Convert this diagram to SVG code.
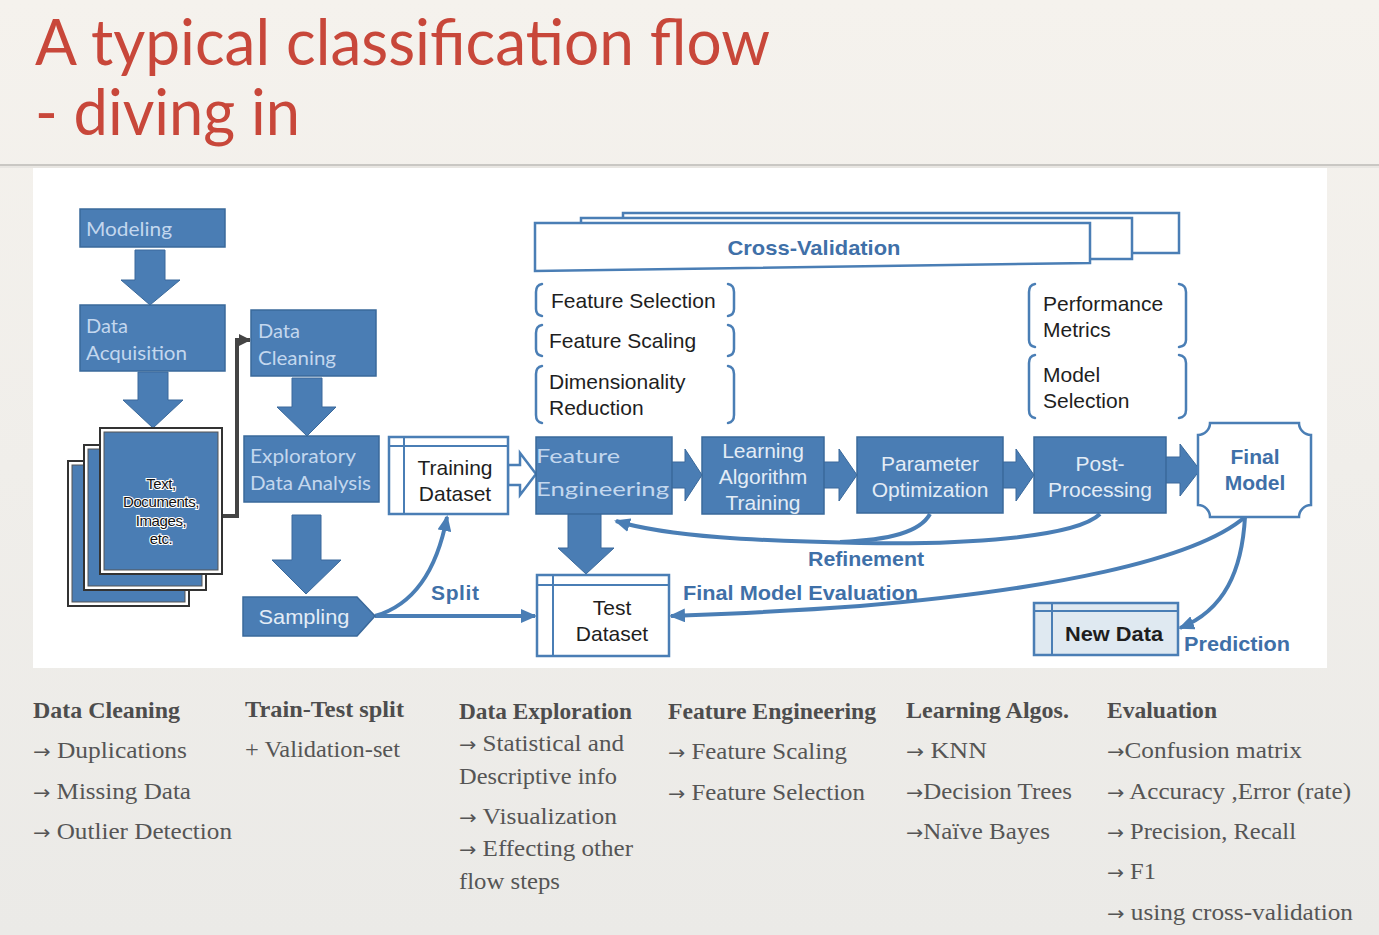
<svg xmlns="http://www.w3.org/2000/svg" width="1379" height="935" viewBox="0 0 1379 935">
  <defs>
    <linearGradient id="paper" x1="0" y1="0" x2="0" y2="1">
      <stop offset="0" stop-color="#f5f2ed"/>
      <stop offset="1" stop-color="#ebeae7"/>
    </linearGradient>
    <marker id="ah" markerUnits="userSpaceOnUse" markerWidth="16" markerHeight="14" viewBox="0 0 16 14" refX="14" refY="7" orient="auto">
      <path d="M0 0 L16 7 L0 14 Z" fill="#4a7eb5"/>
    </marker>
    <marker id="ahg" markerUnits="userSpaceOnUse" markerWidth="12" markerHeight="12" viewBox="0 0 12 12" refX="11" refY="6" orient="auto">
      <path d="M0 0 L12 6 L0 12 Z" fill="#444"/>
    </marker>
    <style>
      .box { fill: #4a7db4; stroke: #3a699b; stroke-width: 1.5; }
      .blk { fill: #4a7db4; stroke: #3a699b; stroke-width: 1; }
      .cal { font-family: Lato, "Open Sans", sans-serif; fill: #c3d7ee; font-size: 20px; }
      .ar { font-family: "Liberation Sans", Arial, sans-serif; font-size: 21px; }
      .lt { fill: #e3ecf6; }
      .dk { fill: #1e1e1e; }
      .lbl { font-weight: bold; fill: #3f70a8; }
      .frame { fill: #fff; stroke: #4a7eb5; stroke-width: 2.5; }
      .brace { fill: none; stroke: #4a7eb5; stroke-width: 2.5; stroke-linecap: round; }
      .link { fill: none; stroke: #4a7eb5; stroke-width: 4; }
      .tbl { fill: #fff; stroke: #4a7eb5; stroke-width: 2.5; }
      .doc-o { fill: #fff; stroke: #333; stroke-width: 2; }
      .doc-i { fill: #4a7db4; stroke: #555; stroke-width: 1; }
      .serif { font-family: "Liberation Serif", "Times New Roman", serif; fill: #555; font-size: 23px; }
      .hd { font-weight: bold; fill: #4d4d4d; }
      .arw { font-family: "DejaVu Sans", sans-serif; font-size: 19px; }
      .title { font-family: Lato, "Open Sans", sans-serif; fill: #c8473a; font-size: 64px; }
    </style>
  </defs>

  <!-- page -->
  <rect x="0" y="0" width="1379" height="935" fill="url(#paper)"/>
  <line x1="0" y1="165" x2="1379" y2="165" stroke="#c9c7c3" stroke-width="2"/>
  <line x1="0" y1="167" x2="1379" y2="167" stroke="#dedcd8" stroke-width="1"/>
  <rect x="33" y="168" width="1294" height="500" fill="#fff"/>

  <!-- title -->
  <g id="title">
    <text class="title" x="35" y="65" textLength="735" lengthAdjust="spacingAndGlyphs">A typical classification flow</text>
    <text class="title" x="35" y="135" textLength="265" lengthAdjust="spacingAndGlyphs">- diving in</text>
  </g>

  <!-- connectors -->
  <g id="connectors">
    <!-- modeling column block arrows -->
    <polygon class="blk" points="135,250 165,250 165,280 180,280 150,305 121,280 135,280"/>
    <polygon class="blk" points="138,372 168,372 168,400 183,400 153,428 123,400 138,400"/>
    <polygon class="blk" points="292,378 322,378 322,407 336,407 307,436 277,407 292,407"/>
    <polygon class="blk" points="292,515 321,515 321,560 341,560 306,594 272,560 292,560"/>
    <!-- documents to cleaning bracket -->
    <path d="M222 516 L237 516 L237 340 L250 340" fill="none" stroke="#444" stroke-width="4" marker-end="url(#ahg)"/>
    <!-- split -->
    <path class="link" d="M375 616 C410 606 436 575 447 517" marker-end="url(#ah)"/>
    <path class="link" d="M375 616 L535 616" marker-end="url(#ah)"/>
    <!-- training to feature engineering (hollow) -->
    <polygon points="508,465 520,465 520,453 536,474 520,495 520,485 508,485" fill="#fff" stroke="#4a7eb5" stroke-width="2.5"/>
    <!-- main flow block arrows -->
    <polygon class="blk" points="668,462 685,462 685,449 702,475 685,501 685,488 668,488"/>
    <polygon class="blk" points="820,462 839,462 839,449 857,475 839,501 839,488 820,488"/>
    <polygon class="blk" points="999,462 1016,462 1016,449 1034,475 1016,501 1016,488 999,488"/>
    <polygon class="blk" points="1162,457 1180,457 1180,444 1200,470 1180,496 1180,483 1162,483"/>
    <!-- feature engineering down to test -->
    <polygon class="blk" points="568,513 601,513 601,548 614,548 586,574 558,548 568,548"/>
    <!-- refinement -->
    <path class="link" d="M1100 514 C1075 538 960 545 860 543 C760 541 668 537 616 521" marker-end="url(#ah)"/>
    <path class="link" d="M930 514 C920 532 890 540 840 542"/>
    <!-- final model evaluation -->
    <path class="link" d="M1245 517 C1195 560 1050 590 860 606 C780 612 720 614 671 616" marker-end="url(#ah)"/>
    <!-- prediction -->
    <path class="link" d="M1245 517 C1242 570 1225 610 1180 628" marker-end="url(#ah)"/>
    <!-- labels -->
    <text class="ar lbl" x="431" y="600" font-size="20" textLength="48" lengthAdjust="spacing">Split</text>
    <text class="ar lbl" x="808" y="566" font-size="20" textLength="116" lengthAdjust="spacingAndGlyphs">Refinement</text>
    <text class="ar lbl" x="683" y="600" font-size="20" textLength="235" lengthAdjust="spacingAndGlyphs">Final Model Evaluation</text>
    <text class="ar lbl" x="1184" y="651" font-size="21" textLength="106" lengthAdjust="spacingAndGlyphs">Prediction</text>
  </g>

  <!-- modeling -->
  <g id="modeling">
    <rect class="box" x="80" y="209" width="145" height="38" stroke="none"/>
    <text class="cal" x="86" y="236" textLength="86" lengthAdjust="spacingAndGlyphs">Modeling</text>
  </g>

  <g id="data-acquisition">
    <rect class="box" x="80" y="305" width="145" height="66" stroke="none"/>
    <text class="cal" x="86" y="333" textLength="42" lengthAdjust="spacingAndGlyphs">Data</text>
    <text class="cal" x="86" y="360" textLength="101" lengthAdjust="spacingAndGlyphs">Acquisition</text>
  </g>

  <g id="documents">
    <rect class="doc-o" x="68" y="461" width="121" height="145"/>
    <rect class="doc-i" x="72" y="465" width="113" height="137"/>
    <rect class="doc-o" x="84" y="445" width="122" height="145"/>
    <rect class="doc-i" x="88" y="449" width="114" height="137"/>
    <rect class="doc-o" x="100" y="428" width="122" height="146"/>
    <rect class="doc-i" x="104" y="432" width="114" height="138"/>
    <g font-family="'Liberation Sans', Arial, sans-serif" font-size="15" text-anchor="middle" fill="#111" stroke="#fff" stroke-width="2.2" paint-order="stroke" letter-spacing="-0.4">
      <text x="161" y="489">Text,</text>
      <text x="161" y="507">Documents,</text>
      <text x="161" y="526">Images,</text>
      <text x="161" y="544">etc.</text>
    </g>
  </g>

  <g id="data-cleaning">
    <rect class="box" x="251" y="310" width="125" height="66" stroke="none"/>
    <text class="cal" x="258" y="338" textLength="42" lengthAdjust="spacingAndGlyphs">Data</text>
    <text class="cal" x="258" y="365" textLength="78" lengthAdjust="spacingAndGlyphs">Cleaning</text>
  </g>

  <g id="exploratory-data-analysis">
    <rect class="box" x="244" y="436" width="135" height="66" stroke="none"/>
    <text class="cal" x="250" y="463" textLength="106" lengthAdjust="spacingAndGlyphs">Exploratory</text>
    <text class="cal" x="250" y="490" textLength="121" lengthAdjust="spacingAndGlyphs">Data Analysis</text>
  </g>

  <g id="sampling">
    <polygon class="box" points="243,597 357,597 375,616 357,636 243,636"/>
    <text class="ar lt" x="304" y="624" text-anchor="middle" font-size="21" textLength="91" lengthAdjust="spacingAndGlyphs">Sampling</text>
  </g>

  <g id="training-dataset">
    <rect class="tbl" x="389" y="437" width="119" height="77"/>
    <line x1="389" y1="446" x2="508" y2="446" stroke="#4a7eb5" stroke-width="2"/>
    <line x1="404" y1="437" x2="404" y2="514" stroke="#4a7eb5" stroke-width="2"/>
    <text class="ar dk" x="455" y="475" text-anchor="middle">Training</text>
    <text class="ar dk" x="455" y="501" text-anchor="middle">Dataset</text>
  </g>

  <g id="cross-validation">
    <rect class="frame" x="623" y="213" width="556" height="40"/>
    <rect class="frame" x="581" y="218" width="551" height="41"/>
    <path class="frame" d="M535 223 L1090 223 L1090 263 L535 271 Z"/>
    <text class="ar lbl" x="814" y="255" text-anchor="middle" font-size="20" textLength="173" lengthAdjust="spacingAndGlyphs">Cross-Validation</text>
  </g>

  <g id="feature-selection">
    <path class="brace" d="M542 284 Q536 285 536 292 L536 309 Q536 315 542 316"/>
    <path class="brace" d="M728 284 Q734 285 734 292 L734 309 Q734 315 728 316"/>
    <text class="ar dk" x="551" y="308">Feature Selection</text>
  </g>
  <g id="feature-scaling">
    <path class="brace" d="M542 325 Q536 326 536 333 L536 349 Q536 355 542 356"/>
    <path class="brace" d="M728 325 Q734 326 734 333 L734 349 Q734 355 728 356"/>
    <text class="ar dk" x="549" y="348">Feature Scaling</text>
  </g>
  <g id="dimensionality-reduction">
    <path class="brace" d="M542 366 Q536 367 536 374 L536 415 Q536 422 542 423"/>
    <path class="brace" d="M728 366 Q734 367 734 374 L734 415 Q734 422 728 423"/>
    <text class="ar dk" x="549" y="389">Dimensionality</text>
    <text class="ar dk" x="549" y="415">Reduction</text>
  </g>

  <g id="performance-metrics">
    <path class="brace" d="M1035 284 Q1029 285 1029 292 L1029 340 Q1029 346 1035 347"/>
    <path class="brace" d="M1179 284 Q1186 285 1186 292 L1186 340 Q1186 346 1179 347"/>
    <text class="ar dk" x="1043" y="311">Performance</text>
    <text class="ar dk" x="1043" y="337">Metrics</text>
  </g>
  <g id="model-selection">
    <path class="brace" d="M1035 355 Q1029 356 1029 363 L1029 410 Q1029 417 1035 418"/>
    <path class="brace" d="M1179 355 Q1186 356 1186 363 L1186 410 Q1186 417 1179 418"/>
    <text class="ar dk" x="1043" y="382">Model</text>
    <text class="ar dk" x="1043" y="408">Selection</text>
  </g>

  <g id="feature-engineering">
    <rect class="box" x="536" y="437" width="136" height="77"/>
    <text class="cal" x="536" y="463" font-size="25" textLength="84" lengthAdjust="spacingAndGlyphs">Feature</text>
    <text class="cal" x="536" y="496" font-size="25" textLength="133" lengthAdjust="spacingAndGlyphs">Engineering</text>
  </g>

  <g id="learning-algorithm-training">
    <rect class="box" x="702" y="437" width="122" height="77"/>
    <text class="ar lt" x="763" y="458" text-anchor="middle">Learning</text>
    <text class="ar lt" x="763" y="484" text-anchor="middle">Algorithm</text>
    <text class="ar lt" x="763" y="510" text-anchor="middle">Training</text>
  </g>

  <g id="parameter-optimization">
    <rect class="box" x="857" y="437" width="146" height="76"/>
    <text class="ar lt" x="930" y="471" text-anchor="middle">Parameter</text>
    <text class="ar lt" x="930" y="497" text-anchor="middle">Optimization</text>
  </g>

  <g id="post-processing">
    <rect class="box" x="1034" y="437" width="132" height="76"/>
    <text class="ar lt" x="1100" y="471" text-anchor="middle">Post-</text>
    <text class="ar lt" x="1100" y="497" text-anchor="middle">Processing</text>
  </g>

  <g id="final-model">
    <path d="M1210 423 L1299 423 A12 12 0 0 0 1311 435 L1311 505 A12 12 0 0 0 1299 517 L1210 517 A12 12 0 0 0 1198 505 L1198 435 A12 12 0 0 0 1210 423 Z" fill="#fff" stroke="#4a7eb5" stroke-width="2.5"/>
    <text class="ar lbl" x="1255" y="464" text-anchor="middle" font-size="21">Final</text>
    <text class="ar lbl" x="1255" y="490" text-anchor="middle" font-size="21">Model</text>
  </g>

  <g id="test-dataset">
    <rect class="tbl" x="537" y="575" width="132" height="81"/>
    <line x1="537" y1="585" x2="669" y2="585" stroke="#4a7eb5" stroke-width="2"/>
    <line x1="553" y1="575" x2="553" y2="656" stroke="#4a7eb5" stroke-width="2"/>
    <text class="ar dk" x="612" y="615" text-anchor="middle">Test</text>
    <text class="ar dk" x="612" y="641" text-anchor="middle">Dataset</text>
  </g>

  <g id="new-data">
    <rect x="1034" y="603" width="144" height="52" fill="#dfe9f1" stroke="#4a7eb5" stroke-width="2.5"/>
    <line x1="1034" y1="611" x2="1178" y2="611" stroke="#4a7eb5" stroke-width="2"/>
    <line x1="1052" y1="603" x2="1052" y2="655" stroke="#4a7eb5" stroke-width="2"/>
    <text class="ar dk" x="1065" y="641" font-weight="bold" textLength="98" lengthAdjust="spacingAndGlyphs">New Data</text>
  </g>

  <!-- notes under the diagram -->
  <g id="notes-cleaning" class="serif">
    <text class="hd" x="33" y="718" textLength="147" lengthAdjust="spacingAndGlyphs">Data Cleaning</text>
    <text x="33" y="758" textLength="154" lengthAdjust="spacingAndGlyphs"><tspan class="arw">→</tspan> Duplications</text>
    <text x="33" y="799" textLength="158" lengthAdjust="spacingAndGlyphs"><tspan class="arw">→</tspan> Missing Data</text>
    <text x="33" y="839" textLength="199" lengthAdjust="spacingAndGlyphs"><tspan class="arw">→</tspan> Outlier Detection</text>
  </g>
  <g id="notes-split" class="serif">
    <text class="hd" x="245" y="717" textLength="159" lengthAdjust="spacingAndGlyphs">Train-Test split</text>
    <text x="245" y="757" textLength="155" lengthAdjust="spacingAndGlyphs">+ Validation-set</text>
  </g>
  <g id="notes-exploration" class="serif">
    <text class="hd" x="459" y="719" textLength="173" lengthAdjust="spacingAndGlyphs">Data Exploration</text>
    <text x="459" y="751" textLength="165" lengthAdjust="spacingAndGlyphs"><tspan class="arw">→</tspan> Statistical and</text>
    <text x="459" y="784" textLength="158" lengthAdjust="spacingAndGlyphs">Descriptive info</text>
    <text x="459" y="824" textLength="158" lengthAdjust="spacingAndGlyphs"><tspan class="arw">→</tspan> Visualization</text>
    <text x="459" y="856" textLength="174" lengthAdjust="spacingAndGlyphs"><tspan class="arw">→</tspan> Effecting other</text>
    <text x="459" y="889" textLength="101" lengthAdjust="spacingAndGlyphs">flow steps</text>
  </g>
  <g id="notes-features" class="serif">
    <text class="hd" x="668" y="719" textLength="208" lengthAdjust="spacingAndGlyphs">Feature Engineering</text>
    <text x="668" y="759" textLength="179" lengthAdjust="spacingAndGlyphs"><tspan class="arw">→</tspan> Feature Scaling</text>
    <text x="668" y="800" textLength="197" lengthAdjust="spacingAndGlyphs"><tspan class="arw">→</tspan> Feature Selection</text>
  </g>
  <g id="notes-algos" class="serif">
    <text class="hd" x="906" y="718" textLength="163" lengthAdjust="spacingAndGlyphs">Learning Algos.</text>
    <text x="906" y="758" textLength="81" lengthAdjust="spacingAndGlyphs"><tspan class="arw">→</tspan> KNN</text>
    <text x="906" y="799" textLength="166" lengthAdjust="spacingAndGlyphs"><tspan class="arw">→</tspan>Decision Trees</text>
    <text x="906" y="839" textLength="144" lengthAdjust="spacingAndGlyphs"><tspan class="arw">→</tspan>Naïve Bayes</text>
  </g>
  <g id="notes-evaluation" class="serif">
    <text class="hd" x="1107" y="718" textLength="110" lengthAdjust="spacingAndGlyphs">Evaluation</text>
    <text x="1107" y="758" textLength="195" lengthAdjust="spacingAndGlyphs"><tspan class="arw">→</tspan>Confusion matrix</text>
    <text x="1107" y="799" textLength="244" lengthAdjust="spacingAndGlyphs"><tspan class="arw">→</tspan> Accuracy ,Error (rate)</text>
    <text x="1107" y="839" textLength="189" lengthAdjust="spacingAndGlyphs"><tspan class="arw">→</tspan> Precision, Recall</text>
    <text x="1107" y="879" textLength="49" lengthAdjust="spacingAndGlyphs"><tspan class="arw">→</tspan> F1</text>
    <text x="1107" y="920" textLength="246" lengthAdjust="spacingAndGlyphs"><tspan class="arw">→</tspan> using cross-validation</text>
  </g>
</svg>
